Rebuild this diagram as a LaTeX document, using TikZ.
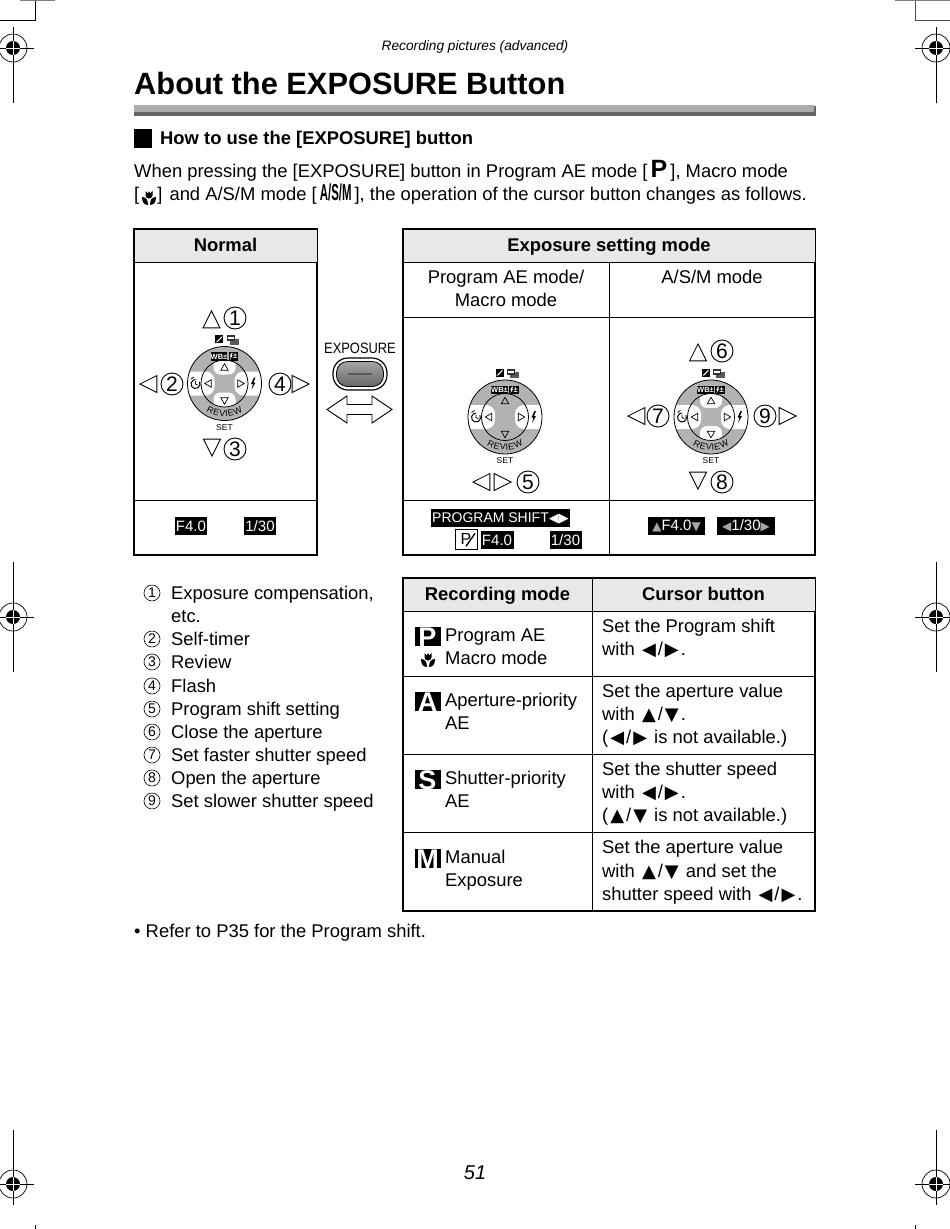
\documentclass[tikz,border=0pt]{standalone}
\usepackage{fontspec}
\usepackage{graphicx}
\usetikzlibrary{shapes.geometric}
\setmainfont{Liberation Sans}
\newfontfamily\glyphfont{DejaVu Sans}
\newcommand{\fsz}[1]{\fontsize{#1}{#1}\selectfont}
\newcommand{\lefttip}{\kern2pt{\glyphfont\fsz{18}◀}\kern2pt}
\newcommand{\righttip}{\kern2pt{\glyphfont\fsz{18}▶}\kern2pt}
\newcommand{\uptip}{\kern2pt{\glyphfont\fsz{18}▲}\kern2pt}
\newcommand{\downtip}{\kern2pt{\glyphfont\fsz{18}▼}\kern2pt}
\begin{document}
\begin{tikzpicture}[
        x=1pt, y=-1pt,
        bodytext/.style={anchor=base west, inner sep=0pt, font=\fsz{18.4}},
        midtext/.style={anchor=base, inner sep=0pt, font=\fsz{18.4}},
        headcell/.style={draw=black, line width=1pt, fill=black!9, inner sep=0pt, minimum height=33, text height=14, text depth=3, font=\bfseries\fsz{18.4}},
        tablebox/.style={draw=black, line width=1.1pt},
        tableline/.style={draw=black, line width=1pt},
        bignum/.style={circle, draw=black, line width=.9pt, inner sep=0pt, minimum size=22, font=\fsz{21}},
        smallnum/.style={circle, draw=black, line width=.6pt, inner sep=0pt, minimum size=16, font=\fsz{14}},
        bigtip/.style={isosceles triangle, isosceles triangle apex angle=54, draw=black, line width=.8pt, inner sep=0pt, minimum height=17, minimum width=17, isosceles triangle stretches, anchor=apex},
        minitip/.style={isosceles triangle, isosceles triangle apex angle=54, draw=black, line width=.7pt, inner sep=0pt, minimum height=6.5, minimum width=7.5, isosceles triangle stretches, anchor=apex},
        darkbox/.style={fill=black, text=white, inner sep=0pt, minimum height=18, font=\fsz{15}},
        modebox/.style={fill=black, text=white, inner sep=0pt, minimum width=26, minimum height=19, text height=19, text depth=0, font=\bfseries\fsz{27}},
        % Cursor dial, the value colours its up and down arms
        pics/dial/.style={code={
            \fill[black!30] (0,0) circle[radius=37];
            \begin{scope}
                \clip (0,0) circle[radius=37];
                \fill[white, rounded corners=9] (-45,-12) rectangle (-10,12);
                \fill[white, rounded corners=9] (10,-12) rectangle (45,12);
            \end{scope}
            \begin{scope}
                \clip (0,0) circle[radius=23.5];
                \fill[#1, rounded corners=7] (-11,-30) rectangle (11,-9);
                \fill[#1, rounded corners=7] (-11,9) rectangle (11,30);
            \end{scope}
            \draw[black, line width=.8pt] (0,0) circle[radius=37];
            \draw[black, line width=.8pt] (0,0) circle[radius=23.5];
            \node[minitip, shape border rotate=90] (-up) at (0,-20.5) {};
            \node[minitip, shape border rotate=-90] (-down) at (0,21.5) {};
            \node[minitip, shape border rotate=180] (-left) at (-20.5,0) {};
            \node[minitip] (-right) at (20.5,0) {};
            % Self-timer and flash
            \draw[black, line width=1pt] (-29,.5) ++(-30:4.5) arc[start angle=-30, end angle=270, radius=4.5];
            \draw[black, line width=.8pt] (-29,.5) -- (-29,-2.5) (-29,.5) -- (-26.8,1.6) (-33.5,-4.5) -- (-30.5,-6.5);
            \fill[black] (29.5,-6) -- (26.5,.5) -- (28.5,.5) -- (27,6) -- (31,-1) -- (29,-1) -- (31,-6) -- cycle;
            % Boxes on the upper ring
            \node[fill=black, text=white, inner sep=0pt, minimum width=16, minimum height=8.5, font=\bfseries\fsz{7.5}] (-wb) at (-5.5,-27) {WB±};
            \node[fill=black, text=white, inner sep=0pt, minimum width=9.5, minimum height=8.5, font=\bfseries\fsz{7.5}] (-fl) at (9,-27) {\hspace{3.5pt}±};
            \fill[white] (7,-30.5) -- (5.2,-27) -- (6.4,-27) -- (5.4,-23.5) -- (8,-27.8) -- (7,-27.8) -- (8.2,-30.5) -- cycle;
            % Boxes above the dial
            \fill[black] (-9.5,-48.5) rectangle (-1.5,-40.5);
            \fill[white] (-8.5,-41.5) -- (-2.5,-47.5) -- (-2.5,-46) -- (-7,-41.5) -- cycle;
            \fill[black!65] (5,-45) rectangle (14,-39);
            \fill[black!80] (2,-48.5) rectangle (10,-42.5);
            \fill[white] (3,-46.5) rectangle (9,-44.5);
            % Ring lettering
            \foreach \ch/\ang [count=\i] in {R/-26.8,E/-15.3,V/-4.2,I/3.7,E/11.6,W/25}
                \node[inner sep=0pt, rotate=\ang, font=\fsz{9}] (-rev\i) at ({31*sin(\ang)},{30*cos(\ang)}) {\ch};
            \node[inner sep=0pt, font=\fsz{8.5}] (-set) at (0,44) {SET};
        }},
        % Macro mode flower
        pics/tulip/.style={code={
            \fill[black] (-7,-1) .. controls (-3,-1) and (-1,2) .. (-1,7) .. controls (-5,7) and (-7,4) .. (-7,-1) -- cycle;
            \fill[black] (7,-1) .. controls (3,-1) and (1,2) .. (1,7) .. controls (5,7) and (7,4) .. (7,-1) -- cycle;
            \fill[black] (-3.5,-7) -- (-1.2,-4.6) -- (0,-7) -- (1.2,-4.6) -- (3.5,-7) -- (3.5,-2.5) .. controls (3.5,-.5) and (1.5,.5) .. (0,.5) .. controls (-1.5,.5) and (-3.5,-.5) .. (-3.5,-2.5) -- cycle;
        }}
    ]
    \useasboundingbox (0,0) rectangle (950,1229);

    % Crop corners
    \draw[black, line width=.8pt] (0,20) -- (35,20) -- (35,0);
    \draw[black!70, line width=.8pt] (950,20) -- (915,20) -- (915,0);
    \draw[black, line width=.8pt] (35,1229) -- (35,1225);
    \draw[black, line width=.8pt] (915,1229) -- (915,1225);
    \draw[black!50, line width=.8pt] (20,0) -- (55,0);
    \draw[black!50, line width=.8pt] (895,0) -- (950,0);

    % Registration marks
    \foreach \mx/\my/\up/\dn/\lf/\rt in {13/48/21/55/13/21, 936/48/21/55/21/14, 13/617/55/55/13/21, 936/617/55/55/21/14, 13/1184/54/21/13/21, 936/1184/54/21/21/14} {
        \draw[black, line width=.7pt] (\mx,\my) circle[radius=14];
        \draw[black, line width=.9pt] (\mx,\my-\up) -- (\mx,\my+\dn);
        \draw[black, line width=.7pt] (\mx-\lf,\my) -- (\mx+\rt,\my);
        \fill[black] (\mx,\my) circle[radius=7];
        \draw[white, line width=.6pt] (\mx-7,\my) -- (\mx+7,\my) (\mx,\my-7) -- (\mx,\my+7);
    }

    % Page head
    \node[inner sep=0pt, font=\itshape\fsz{13.7}] (pagehead) at (475,47) {Recording pictures (advanced)};
    \node[anchor=base west, inner sep=0pt, font=\bfseries\fsz{30.8}] (pagetitle) at (134,94) {About the EXPOSURE Button};
    \fill[black!33] (134,105) rectangle (814,112);
    \fill[black!60] (134,112) rectangle (816,116);
    \fill[black!60] (814,106) rectangle (816,116);

    \fill[black] (134,129) rectangle (152,148);
    \node[bodytext, font=\bfseries\fsz{18.4}] (subhead) at (160,144) {How to use the [EXPOSURE] button};
    \node[bodytext] (introA) at (134,177) {When pressing the [EXPOSURE] button in Program AE mode [\,{\bfseries\fsz{25}P}\,], Macro mode};
    \node[bodytext] (introB) at (134,200) {[\hspace{18pt}]\kern2pt\ and A/S/M mode [\,{\bfseries\scalebox{.62}[1.25]{A/S/M}}\,], the operation of the cursor button changes as follows.};
    \pic at (149,198) {tulip};

    % Left table
    \draw[tablebox] (134,229) rectangle (317,555);
    \node[headcell, minimum width=183] (normalhead) at (225.5,245.5) {Normal};
    \draw[tableline] (134,500) -- (317,500);
    \node[bigtip, shape border rotate=90] (tipA) at (211.5,310) {};
    \node[bignum] (numA) at (235,318) {1};
    \node[bigtip, shape border rotate=180] (tipB) at (139,384) {};
    \node[bignum] (numB) at (172,384) {2};
    \node[bignum] (numD) at (280,384) {4};
    \node[bigtip] (tipD) at (310,384) {};
    \node[bigtip, shape border rotate=-90] (tipC) at (212,457) {};
    \node[bignum] (numC) at (235,449) {3};
    \pic (dialA) at (224.5,383.5) {dial=white};
    \node[darkbox, minimum width=32] (apA) at (191,526) {F4.0};
    \node[darkbox, minimum width=32] (spA) at (260,526) {1/30};

    % Button between the tables
    \node[inner sep=0pt, xscale=.86, font=\fsz{15}] (explabel) at (360,348) {EXPOSURE};
    \node[draw=black, line width=1.2pt, fill=white, rounded corners=15, inner sep=0pt, minimum width=54, minimum height=32] (expbtn) at (360,374) {};
    \node[draw=black, line width=.8pt, top color=black!35, bottom color=black!60, rounded corners=11, inner sep=0pt, minimum width=47, minimum height=25] (expface) at (360,374) {};
    \draw[black!65, line width=2pt] (348,374) -- (372,374);
    \draw[black, line width=.9pt] (327,409.5) -- (347,396) -- (347,404.5) -- (372,404.5) -- (372,396) -- (392,409.5) -- (372,423) -- (372,414.5) -- (347,414.5) -- (347,423) -- cycle;

    % Right table
    \draw[tablebox] (403,229) rectangle (815,555);
    \node[headcell, minimum width=412] (exphead) at (609,245.5) {Exposure setting mode};
    \draw[tableline] (403,317) -- (815,317);
    \draw[tableline] (403,500) -- (815,500);
    \draw[tableline] (609,262) -- (609,555);
    \node[midtext] (progA) at (506,283) {Program AE mode/};
    \node[midtext] (progB) at (506,306) {Macro mode};
    \node[midtext] (asmmode) at (712,283) {A/S/M mode};

    \pic (dialB) at (505,417) {dial=black!30};
    \node[bigtip, shape border rotate=180] (tipE) at (472,482) {};
    \node[bigtip] (tipF) at (512,482) {};
    \node[bignum] (numE) at (528,482) {5};
    \node[darkbox, minimum width=139, font=\fsz{14}] (shift) at (500.5,518) {PROGRAM SHIFT{\glyphfont\fsz{13}◀▶}};
    \node[draw=black, line width=.6pt, inner sep=0pt, minimum width=22, minimum height=20, font=\fsz{16}] (pbox) at (466,539) {P\hspace{8pt}};
    \draw[black, line width=1.4pt] (pbox.south) ++(0,-3) -- ++(9,-13);
    \node[darkbox, minimum width=33] (apB) at (497,540) {F4.0};
    \node[darkbox, minimum width=32] (spB) at (565.5,540) {1/30};

    \pic (dialC) at (711,417) {dial=white};
    \node[bigtip, shape border rotate=90] (tipG) at (698,343) {};
    \node[bignum] (numG) at (722,351) {6};
    \node[bigtip, shape border rotate=180] (tipH) at (627,416) {};
    \node[bignum] (numH) at (658,416) {7};
    \node[bignum] (numJ) at (765,416) {9};
    \node[bigtip] (tipJ) at (797,416) {};
    \node[bigtip, shape border rotate=-90] (tipI) at (698,490) {};
    \node[bignum] (numI) at (722,482) {8};
    \node[darkbox, minimum width=57] (apC) at (676.5,526) {{\glyphfont\fsz{12}\textcolor{black!35}{▲}}F4.0{\glyphfont\fsz{12}\textcolor{black!35}{▼}}};
    \node[darkbox, minimum width=58] (spC) at (746,526) {{\glyphfont\fsz{12}\textcolor{black!35}{◀}}1/30{\glyphfont\fsz{12}\textcolor{black!35}{▶}}};

    % Numbered list
    \foreach \num/\ypos/\lab in {1/593/{Exposure compensation,}, 2/639/Self-timer, 3/662/Review, 4/686/Flash, 5/709/Program shift setting, 6/732/Close the aperture, 7/755/Set faster shutter speed, 8/778/Open the aperture, 9/801/Set slower shutter speed} {
        \node[smallnum] (mark\num) at (152,\ypos) {\num};
        \node[bodytext] (item\num) at (171,\ypos+6) {\lab};
    }
    \node[bodytext] (itemcont) at (171,622) {etc.};

    % Lower table
    \draw[tablebox] (403,578) rectangle (815,911);
    \node[headcell, minimum width=189] (modehead) at (497.5,594.5) {Recording mode};
    \node[headcell, minimum width=223] (cursorhead) at (703.5,594.5) {Cursor button};
    \draw[tableline] (592,611) -- (592,911);
    \draw[tableline] (403,676) -- (815,676);
    \draw[tableline] (403,754) -- (815,754);
    \draw[tableline] (403,832) -- (815,832);

    \node[modebox] (modeP) at (427.5,636.5) {P};
    \pic at (428,660) {tulip};
    \node[bodytext] (modePa) at (445,641) {Program AE};
    \node[bodytext] (modePb) at (445,664) {Macro mode};
    \node[bodytext] (curPa) at (602,632) {Set the Program shift};
    \node[bodytext] (curPb) at (602,655) {with \lefttip/\righttip.};

    \node[modebox] (modeA) at (427.5,701.5) {A};
    \node[bodytext] (modeAa) at (445,706) {Aperture-priority};
    \node[bodytext] (modeAb) at (445,729) {AE};
    \node[bodytext] (curAa) at (602,697) {Set the aperture value};
    \node[bodytext] (curAb) at (602,720) {with \uptip/\downtip.};
    \node[bodytext] (curAc) at (602,743) {(\lefttip/\righttip\ is not available.)};

    \node[modebox] (modeS) at (427.5,779.5) {S};
    \node[bodytext] (modeSa) at (445,784) {Shutter-priority};
    \node[bodytext] (modeSb) at (445,807) {AE};
    \node[bodytext] (curSa) at (602,775) {Set the shutter speed};
    \node[bodytext] (curSb) at (602,798) {with \lefttip/\righttip.};
    \node[bodytext] (curSc) at (602,821) {(\uptip/\downtip\ is not available.)};

    \node[modebox] (modeM) at (427.5,858.5) {M};
    \node[bodytext] (modeMa) at (445,863) {Manual};
    \node[bodytext] (modeMb) at (445,886) {Exposure};
    \node[bodytext] (curMa) at (602,853) {Set the aperture value};
    \node[bodytext] (curMb) at (602,877) {with \uptip/\downtip\ and set the};
    \node[bodytext] (curMc) at (602,900) {shutter speed with \lefttip/\righttip.};

    \node[bodytext] (refnote) at (134,937) {• Refer to P35 for the Program shift.};
    \node[inner sep=0pt, font=\itshape\fsz{20}] (pageno) at (475,1173) {51};
\end{tikzpicture}
\end{document}
